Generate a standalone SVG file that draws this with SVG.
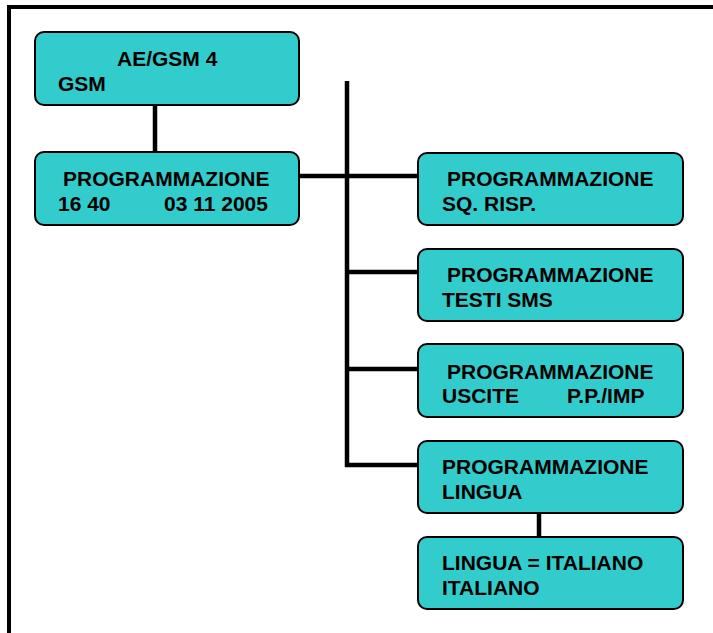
<svg xmlns="http://www.w3.org/2000/svg" width="713" height="633" viewBox="0 0 713 633">
<style>
.box{fill:#33CCCC;stroke:#000;stroke-width:2}
.t{font-family:"Liberation Sans",Arial,sans-serif;font-weight:bold;font-size:21px;fill:#000}
.c{stroke:#000;stroke-width:4.5;fill:none}
.frame{stroke:#000;stroke-width:4;fill:none}
</style>
<rect width="713" height="633" fill="#fff"/>
<path class="frame" d="M9,633 V7 H713"/>
<g id="connectors">
<line class="c" x1="155" y1="105" x2="155" y2="152"/>
<line class="c" x1="347" y1="81" x2="347" y2="467"/>
<line class="c" x1="299" y1="176" x2="418" y2="176"/>
<line class="c" x1="347" y1="272" x2="418" y2="272"/>
<line class="c" x1="347" y1="369" x2="418" y2="369"/>
<line class="c" x1="345" y1="465" x2="418" y2="465"/>
<line class="c" x1="539" y1="513" x2="539" y2="537"/>
</g>
<g id="n1">
<rect class="box" x="35" y="32" width="264" height="73" rx="9"/>
<text class="t" x="117" y="66">AE/GSM 4</text>
<text class="t" x="58" y="91">GSM</text>
</g>
<g id="n2">
<rect class="box" x="35" y="152" width="264" height="73" rx="9"/>
<text class="t" x="63" y="186">PROGRAMMAZIONE</text>
<text class="t" x="58" y="211">16 40</text>
<text class="t" x="164" y="211">03 11 2005</text>
</g>
<g id="n3">
<rect class="box" x="418" y="153" width="265" height="72" rx="9"/>
<text class="t" x="447" y="186">PROGRAMMAZIONE</text>
<text class="t" x="442" y="211">SQ. RISP.</text>
</g>
<g id="n4">
<rect class="box" x="418" y="249" width="265" height="72" rx="9"/>
<text class="t" x="447" y="282">PROGRAMMAZIONE</text>
<text class="t" x="442" y="307">TESTI SMS</text>
</g>
<g id="n5">
<rect class="box" x="418" y="344" width="265" height="73" rx="9"/>
<text class="t" x="447" y="379">PROGRAMMAZIONE</text>
<text class="t" x="442" y="403">USCITE</text>
<text class="t" x="567" y="403">P.P./IMP</text>
</g>
<g id="n6">
<rect class="box" x="418" y="441" width="265" height="72" rx="9"/>
<text class="t" x="442" y="474">PROGRAMMAZIONE</text>
<text class="t" x="442" y="499">LINGUA</text>
</g>
<g id="n7">
<rect class="box" x="418" y="537" width="265" height="72" rx="9"/>
<text class="t" x="442" y="570">LINGUA = ITALIANO</text>
<text class="t" x="442" y="595">ITALIANO</text>
</g>
</svg>
